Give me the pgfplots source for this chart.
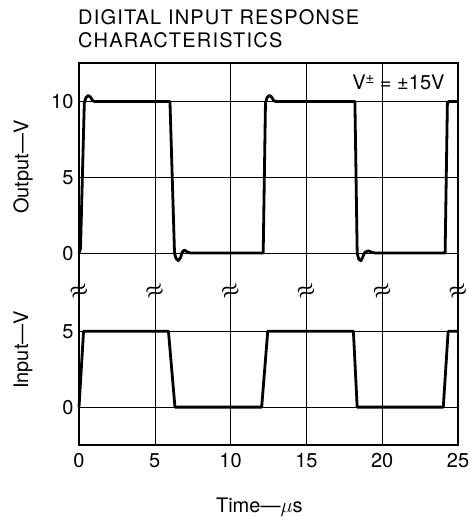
\documentclass[border=0pt]{standalone}
\usepackage{amsmath}
\usepackage{fontspec}
\setmainfont{TeX Gyre Heros}
\newfontfamily\titlefont[LetterSpace=6]{TeX Gyre Heros}
\usepackage{pgfplots}
\pgfplotsset{compat=1.18}

% output curve is plotted 10.16 units above the input curve
\newcommand{\outoff}{10.16}

\begin{document}
\begin{tikzpicture}
\useasboundingbox (-79pt,-76pt) rectangle (390pt,445pt);
\begin{axis}[
  at={(0pt,0pt)}, anchor=south west,
  scale only axis, width=379pt, height=382pt,
  xmin=0, xmax=25, ymin=-2.5, ymax=22.7,
  xtick={0,5,10,15,20,25},
  ytick={0,5,10.16,15.16,20.16},
  yticklabels={0,5,0,5,10},
  grid=major,
  major grid style={black, line width=0.6pt},
  axis line style={black, line width=1.3pt},
  major tick length=0pt,
  tick label style={font=\fontsize{20}{22}\selectfont},
  /pgf/number format/assume math mode=true,
  yticklabel style={xshift=-2pt},
  xticklabel style={yshift=-5pt},
  xlabel={Time—$\mu$s},
  every axis x label/.style={at={(axis cs:11.9,-2.5)}, anchor=base, yshift=-67pt,
    font=\fontsize{20}{22}\selectfont},
  clip=false,
]
% output, volts
\addplot[black, line width=2.8pt, line join=round, y filter/.expression={y+\outoff}]
  coordinates {
    (0,0) (0.1,0.3) (0.35,9.9) (0.45,10.25) (0.6,10.4) (0.75,10.3) (0.9,10.05)
    (1.05,10) (6.0,10) (6.3,0) (6.4,-0.35) (6.55,-0.5) (6.7,-0.3) (6.8,0.05)
    (6.95,0.2) (7.1,0.1) (7.35,0) (12.15,0) (12.3,9.9) (12.4,10.25) (12.55,10.4)
    (12.7,10.3) (12.85,10.05) (13.0,10) (18.2,10) (18.35,0) (18.45,-0.4)
    (18.6,-0.5) (18.72,-0.25) (18.85,0.05) (19.1,0.15) (19.3,0.05) (19.55,0)
    (24.15,0) (24.3,9.9) (24.4,10) (25,10)
  };
% input, volts
\addplot[black, line width=2.8pt, line join=round]
  coordinates {
    (0,0) (0.3,5) (5.9,5) (6.33,0) (12.05,0) (12.45,5) (18.1,5) (18.35,0)
    (24.03,0) (24.35,5) (25,5)
  };
% axis break marks
\pgfplotsinvokeforeach{0,5,10,15,20,25}{
  \node[rotate=20, inner sep=0pt, font=\fontsize{21}{21}\selectfont] at (axis cs:#1,7.6) {$\boldsymbol{\approx}$};
}
\node[anchor=east, font=\fontsize{20}{22}\selectfont] at (rel axis cs:1,1)
  [xshift=-10pt, yshift=-19pt] {V\raisebox{0.55ex}{\fontsize{15}{15}\selectfont±} = ±15V};
\end{axis}
\node[rotate=90, font=\fontsize{20}{22}\selectfont] at (-56pt,278pt) {Output—V};
\node[rotate=90, font=\fontsize{20}{22}\selectfont] at (-56pt,95pt) {Input—V};
\node[anchor=base west, inner sep=0pt, font=\titlefont\fontsize{20}{22}\selectfont]
  at (-1pt,420pt) {DIGITAL INPUT RESPONSE};
\node[anchor=base west, inner sep=0pt, font=\titlefont\fontsize{20}{22}\selectfont]
  at (-1pt,397pt) {CHARACTERISTICS};
\end{tikzpicture}
\end{document}
